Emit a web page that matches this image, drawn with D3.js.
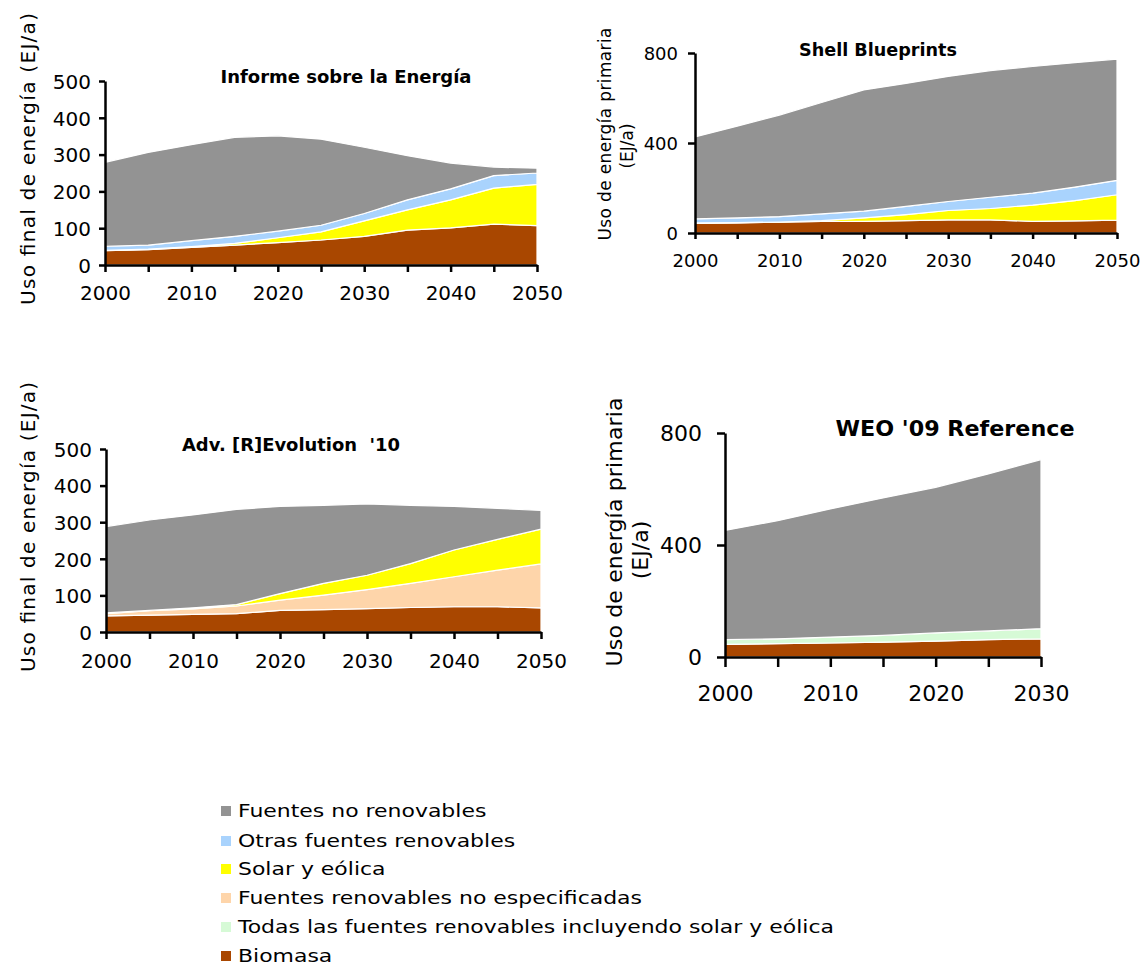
<!DOCTYPE html>
<html><head><meta charset="utf-8">
<script src="https://cdn.jsdelivr.net/npm/d3@7"></script>
<style>
body{margin:0;background:#fff}
svg{display:block}
text{font-family:"DejaVu Sans",Verdana,sans-serif;fill:#000}
</style>
</head><body>
<svg id="c" width="1140" height="967"></svg>
<script>
// ---------- data ----------
const seriesNames = ["Fuentes no renovables","Otras fuentes renovables","Solar y eólica","Fuentes renovables no especificadas","Todas las fuentes renovables incluyendo solar y eólica","Biomasa"];
const seriesColors = ["#939393","#a9d3fd","#ffff00","#fed5aa","#d6fad6","#a94700"];

const years2050 = [2000,2005,2010,2015,2020,2025,2030,2035,2040,2045,2050];
const years2030 = [2000,2005,2010,2015,2020,2025,2030];
const xLabels2050 = [2000,2010,2020,2030,2040,2050];
const xLabels2030 = [2000,2010,2020,2030];
const yTicks500 = [0,100,200,300,400,500];
const yTicks800 = [0,400,800];

const titles = ["Informe sobre la Energía","Shell Blueprints","Adv. [R]Evolution\u00a0 '10","WEO '09 Reference"];
const yLabelFinal = "Uso final de energía (EJ/a)";
const yLabelPrimary = ["Uso de energía primaria","(EJ/a)"];

// Informe sobre la Energía (EJ/a)
const informeBiomasa = [39,42,48,54,61,68,78,95,101,111,107];
const informeSolar   = [1,1,2,5,13,22,42,55,76,98,112];
const informeOtras   = [11,11,16,19,18,18,20,27,30,34,31];
const informeNoRen   = [228,252,261,269,259,234,180,120,70,23,13];

// Shell Blueprints (EJ/a)
const shellBiomasa = [43,45,48,51,52,55,58,58,52,54,57];
const shellSolar   = [2,1,1,4,15,27,42,51,72,90,113];
const shellOtras   = [18,21,24,30,30,36,40,50,53,60,64];
const shellNoRen   = [364,408,451,495,539,547,556,563,563,553,539];

// Adv. [R]Evolution '10 (EJ/a)
const advBiomasa = [44,46,48,50,59,61,64,67,69,69,66];
const advNoEsp   = [6,12,15,21,28,40,52,66,82,100,120];
const advSolar   = [2,1,3,4,18,32,39,54,73,84,95];
const advNoRen   = [236,247,254,260,238,213,195,159,119,85,51];

// WEO '09 Reference (EJ/a)
const weoBiomasa = [45,48,50,53,57,62,65];
const weoTodas   = [17,17,21,24,29,31,36];
const weoNoRen   = [390,422,458,491,520,561,604];

// ---------- drawing ----------
const svg = d3.select("#c");

function panel(cfg){
  const g = svg.append("g");
  const x = d3.scaleLinear().domain(d3.extent(cfg.years)).range([cfg.x0,cfg.x1]);
  const y = d3.scaleLinear().domain([0,cfg.yMax]).range([cfg.y0,cfg.y1]);
  const keys = cfg.layers.map((l,i)=>"k"+i);
  const rows = cfg.years.map((yr,j)=>{const r={year:yr}; cfg.layers.forEach((l,i)=>r["k"+i]=l.values[j]); return r;});
  const stacked = d3.stack().keys(keys)(rows);
  const area = d3.area().x(d=>x(d.data.year)).y0(d=>y(d[0])).y1(d=>y(d[1]));
  g.selectAll("path.layer").data(stacked).join("path").attr("class","layer")
    .attr("d",area).attr("fill",(d,i)=>seriesColors[cfg.layers[i].s])
    .attr("stroke","#fff").attr("stroke-width",1.2).attr("stroke-linejoin","round");

  // x axis
  const xa = g.append("g").attr("transform",`translate(0,${cfg.y0})`)
    .call(d3.axisBottom(x).tickValues(cfg.years).tickSize(cfg.xTick).tickSizeOuter(0)
      .tickFormat(d=>cfg.xLabels.includes(d)?String(d):""));
  xa.select(".domain").attr("stroke","#000").attr("stroke-width",2.5);
  xa.selectAll(".tick line").attr("stroke","#000").attr("stroke-width",2.5);
  xa.selectAll(".tick text").attr("y",cfg.xLabOff).attr("dy","0.36em")
    .style("font-size",cfg.fs+"px").attr("fill","#000");

  // y axis
  const ya = g.append("g").attr("transform",`translate(${cfg.x0},0)`)
    .call(d3.axisLeft(y).tickValues(cfg.yTicks).tickSize(cfg.yTick).tickSizeOuter(0).tickFormat(d3.format("d")));
  ya.select(".domain").attr("stroke","#000").attr("stroke-width",2.5);
  ya.selectAll(".tick line").attr("stroke","#000").attr("stroke-width",2.5);
  ya.selectAll(".tick text").attr("x",-cfg.yLabOff).attr("dy","0.36em")
    .style("font-size",cfg.fs+"px").attr("fill","#000");

  // title
  g.append("text").attr("x",cfg.tx).attr("y",cfg.ty).attr("text-anchor","middle").attr("dy","0.36em")
    .attr("textLength",cfg.tw).attr("lengthAdjust","spacingAndGlyphs")
    .style("font-size",cfg.tfs+"px").style("font-weight","bold").text(cfg.title);

  // y label
  cfg.ylab.forEach((t,i)=>{
    const tt = g.append("text").attr("transform",`translate(${cfg.ylx[i]},${cfg.yly[i]}) rotate(-90)`)
      .attr("text-anchor","middle").attr("dy","0.36em")
      .style("font-size",cfg.ylfs+"px").text(t);
    if (cfg.ylw[i]) tt.attr("textLength",cfg.ylw[i]).attr("lengthAdjust","spacing");
  });
}

panel({years:years2050,xLabels:xLabels2050,yMax:500,yTicks:yTicks500,
  x0:105,x1:537,y0:265,y1:81,xTick:7,yTick:6,xLabOff:28,yLabOff:14,fs:20,
  title:titles[0],tx:346,ty:77,tfs:17,tw:251,
  ylab:[yLabelFinal],ylx:[28],yly:[159],ylfs:20,ylw:[292],
  layers:[{s:5,values:informeBiomasa},{s:2,values:informeSolar},{s:1,values:informeOtras},{s:0,values:informeNoRen}]});

panel({years:years2050,xLabels:xLabels2050,yMax:800,yTicks:yTicks800,
  x0:695,x1:1117,y0:233,y1:53,xTick:6,yTick:7,xLabOff:28,yLabOff:17,fs:18,
  title:titles[1],tx:878,ty:50,tfs:17,tw:158,
  ylab:yLabelPrimary,ylx:[605,627],yly:[134,146],ylfs:17,ylw:[213,0],
  layers:[{s:5,values:shellBiomasa},{s:2,values:shellSolar},{s:1,values:shellOtras},{s:0,values:shellNoRen}]});

panel({years:years2050,xLabels:xLabels2050,yMax:500,yTicks:yTicks500,
  x0:106,x1:541,y0:632,y1:449,xTick:7,yTick:6,xLabOff:29,yLabOff:14,fs:20,
  title:titles[2],tx:291,ty:445,tfs:17,tw:218,
  ylab:[yLabelFinal],ylx:[28],yly:[527],ylfs:20,ylw:[290],
  layers:[{s:5,values:advBiomasa},{s:3,values:advNoEsp},{s:2,values:advSolar},{s:0,values:advNoRen}]});

panel({years:years2030,xLabels:xLabels2030,yMax:800,yTicks:yTicks800,
  x0:725,x1:1041,y0:657,y1:433,xTick:10,yTick:8,xLabOff:36,yLabOff:23,fs:22,
  title:titles[3],tx:955,ty:428,tfs:22,tw:239,
  ylab:yLabelPrimary,ylx:[614,640],yly:[532,550],ylfs:22,ylw:[269,0],
  layers:[{s:5,values:weoBiomasa},{s:4,values:weoTodas},{s:0,values:weoNoRen}]});

// legend
const legendY = [811,841,869,898,927,956];
const lg = svg.append("g");
seriesNames.forEach((n,i)=>{
  lg.append("rect").attr("x",221).attr("y",legendY[i]-5).attr("width",10).attr("height",10).attr("fill",seriesColors[i]);
  lg.append("text").attr("transform",`translate(238,${legendY[i]}) scale(1.22,1)`).attr("dy","0.36em")
    .style("font-size","18px").text(n);
});
</script>
</body></html>
